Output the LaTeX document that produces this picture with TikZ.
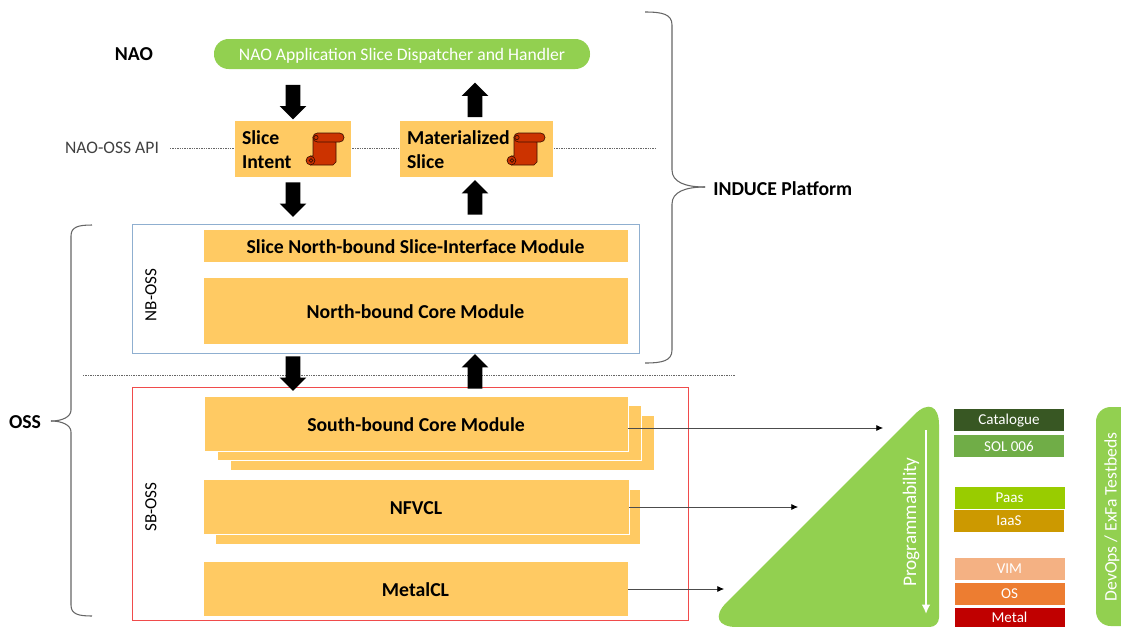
\documentclass[tikz,border=0pt]{standalone}
\usepackage{fontspec}
\setmainfont{Carlito}
\usetikzlibrary{positioning}
\usetikzlibrary{shapes.arrows}
\usetikzlibrary{arrows.meta}

\definecolor{boxorange}{HTML}{FFCA63}
\definecolor{padgreen}{HTML}{92D050}
\definecolor{nbblue}{HTML}{8FAFD0}
\definecolor{sbred}{HTML}{F04B4B}
\definecolor{scrollred}{HTML}{CC3300}

\tikzset{
  boxsize/.style 2 args={minimum width=#1*0.75pt, minimum height=#2*0.75pt},
  modulebox/.style={fill=boxorange, draw=white, line width=0.5pt, inner sep=0pt, text height=11.5pt, font=\bfseries\fontsize{14.8}{18}\selectfont},
  layerbox/.style={fill=#1, draw=white, line width=0.5pt, inner sep=0pt, text=white, minimum width=83pt, minimum height=17pt, text depth=0pt, font=\fontsize{11.3}{13}\selectfont},
  downarrow/.style={single arrow, fill=black, inner sep=5.25pt, minimum width=19.5pt, minimum height=26pt, single arrow head extend=4.5pt, single arrow head indent=0pt, shape border rotate=270},
  uparrow/.style={downarrow, shape border rotate=90},
  thinarrow/.style={draw=black!70, line width=0.5pt, -{Latex[black,length=5pt,width=4.5pt]}},
  dotline/.style={draw=black!60, line width=0.5pt, dash pattern=on 1pt off 0.8pt},
  bracket/.style={draw=black!60, line width=0.8pt},
  plainlabel/.style={font=\bfseries\fontsize{14.8}{18}\selectfont, inner sep=0pt},
  scrollpart/.style={fill=scrollred, draw=black!70!scrollred, line width=0.5pt}
}

\newcommand{\scrollicon}[2]{
\begin{scope}[shift={(#1,#2)}]
\filldraw[scrollpart] (7,4) -- (7,23) -- (4.5,23) -- (4.5,32) -- (27,32) -- (30,29) -- (30,9) -- cycle;
\filldraw[scrollpart, rounded corners=3.3pt] (7,0) rectangle (38,9);
\filldraw[scrollpart] (4.5,27.5) circle (3.3pt);
\draw[scrollpart, fill=none] (10,4.5) circle (1.6pt);
\draw[scrollpart, fill=none] (5,27.5) circle (1.4pt);
\end{scope}
}

\begin{document}
\begin{tikzpicture}[x=0.75pt, y=-0.75pt]
\clip (0,0) rectangle (1121,626);

\coordinate (apileft) at (170,148);
\coordinate (apiright) at (657,148);
\coordinate (splitleft) at (83,375);
\coordinate (splitright) at (735,375);
\draw[dotline] (apileft) -- (apiright);
\draw[dotline] (splitleft) -- (splitright);

\node[plainlabel] (naolabel) at (134,54) {NAO};
\node[fill=padgreen, rounded corners=11pt, text=white, inner sep=0pt, text depth=0pt, font=\fontsize{13.2}{15}\selectfont, minimum width=282pt, minimum height=22.5pt] (dispatcher) at (402,54) {NAO Application Slice Dispatcher and Handler};
\node[inner sep=0pt, text=black!75, font=\fontsize{13.2}{15}\selectfont] (apilabel) at (112,148) {NAO-OSS API};

\node[modulebox, boxsize={117}{57}, align=left, text width=75.7pt] (intent) at (292.5,149) {Slice\\Intent};
\node[modulebox, boxsize={154}{57}, align=left, text width=103.5pt] (materialized) at (476,149) {Materialized\\Slice};
\scrollicon{306}{133}
\scrollicon{507}{133}

\node[downarrow] (arrowa) at (293,98.5) {};
\node[uparrow] (arrowb) at (475,103.5) {};
\node[downarrow] (arrowc) at (293,196) {};
\node[uparrow] (arrowd) at (475,201) {};

\draw[draw=nbblue, line width=0.6pt] (132,224) rectangle (639,353);
\node[modulebox, boxsize={425}{33}] (slicenb) at (415.5,246) {Slice North-bound Slice-Interface Module};
\node[modulebox, boxsize={425}{67}] (corenb) at (415.5,311) {North-bound Core Module};
\node[plainlabel, rotate=90, font=\fontsize{12.8}{15}\selectfont] (nboss) at (151,295) {NB-OSS};

\draw[draw=sbred, line width=0.6pt] (132,387) rectangle (688,620);
\node[modulebox, boxsize={424}{55}] (southc) at (442,443) {};
\node[modulebox, boxsize={424}{55}] (southb) at (429,433) {};
\node[modulebox, boxsize={424}{55}] (southcore) at (416,424) {South-bound Core Module};
\node[modulebox, boxsize={425}{55}] (nfvclb) at (427.5,517) {};
\node[modulebox, boxsize={426}{55}] (nfvcl) at (416,507) {NFVCL};
\node[modulebox, boxsize={425}{55}] (metalcl) at (415.5,589) {MetalCL};
\node[plainlabel, rotate=90, font=\fontsize{12.8}{15}\selectfont] (sboss) at (151,507) {SB-OSS};

\node[downarrow] (arrowe) at (293,370) {};
\node[uparrow] (arrowf) at (475,375) {};

\fill[padgreen] (939,500) [rounded corners=26pt] -- (939,390) -- (702,627) [rounded corners=7pt] -- (939,627) -- cycle;
\node[inner sep=0pt, rotate=90, text=white, font=\fontsize{14.4}{17}\selectfont] (program) at (911,522) {Programmability};
\coordinate (programtop) at (926,430);
\coordinate (programend) at (926,614);
\draw[draw=white, line width=1.5pt, -{Latex[length=7pt,width=6.5pt]}] (programtop) -- (programend);

\coordinate (inputa) at (883,428);
\coordinate (inputb) at (798,507);
\coordinate (inputc) at (724,589);
\draw[thinarrow] (southcore.east |- inputa) -- (inputa);
\draw[thinarrow] (nfvcl.east |- inputb) -- (inputb);
\draw[thinarrow] (metalcl.east |- inputc) -- (inputc);

\definecolor{catalog}{HTML}{385723}
\definecolor{solgreen}{HTML}{70AD47}
\definecolor{paasgreen}{HTML}{99CC00}
\definecolor{iaasgold}{HTML}{CC9900}
\definecolor{vimpeach}{HTML}{F4B183}
\definecolor{osorange}{HTML}{ED7D31}
\definecolor{metalred}{HTML}{C00000}
\node[layerbox=catalog] (catalogue) at (1009,419.5) {Catalogue};
\node[layerbox=solgreen] (sol) at (1009,446) {SOL 006};
\node[layerbox=paasgreen] (paas) at (1009.5,498) {Paas};
\node[layerbox=iaasgold] (iaas) at (1009,521) {IaaS};
\node[layerbox=vimpeach] (vim) at (1009.5,569) {VIM};
\node[layerbox=osorange] (os) at (1009.5,594) {OS};
\node[layerbox=metalred, minimum height=18pt, text depth=4pt] (metal) at (1009.5,619.5) {Metal};

\fill[padgreen, rounded corners=11pt] (1096,407) rectangle (1140,626);
\node[inner sep=0pt, rotate=90, text=white, font=\fontsize{13.2}{15}\selectfont] (devops) at (1112,517) {DevOps / ExFa Testbeds};

\coordinate (inducea) at (645,12);
\coordinate (induceb) at (645,363);
\coordinate (inducetip) at (705,187);
\draw[bracket] (inducea) .. controls (662,12) and (672,14) .. (672,25) -- (672,170) .. controls (672,182) and (685,187) .. (inducetip);
\draw[bracket] (induceb) .. controls (662,363) and (672,361) .. (672,350) -- (672,204) .. controls (672,192) and (685,187) .. (inducetip);
\node[plainlabel, anchor=west] (induce) at (713,189) {INDUCE Platform};

\coordinate (ossa) at (92,225);
\coordinate (ossb) at (92,616);
\coordinate (osstip) at (51,421);
\draw[bracket] (ossa) .. controls (78,225) and (71,227) .. (71,236) -- (71,410) .. controls (71,417) and (62,421) .. (osstip);
\draw[bracket] (ossb) .. controls (78,616) and (71,614) .. (71,605) -- (71,432) .. controls (71,425) and (62,421) .. (osstip);
\node[plainlabel] (oss) at (25,422) {OSS};
\end{tikzpicture}
\end{document}
